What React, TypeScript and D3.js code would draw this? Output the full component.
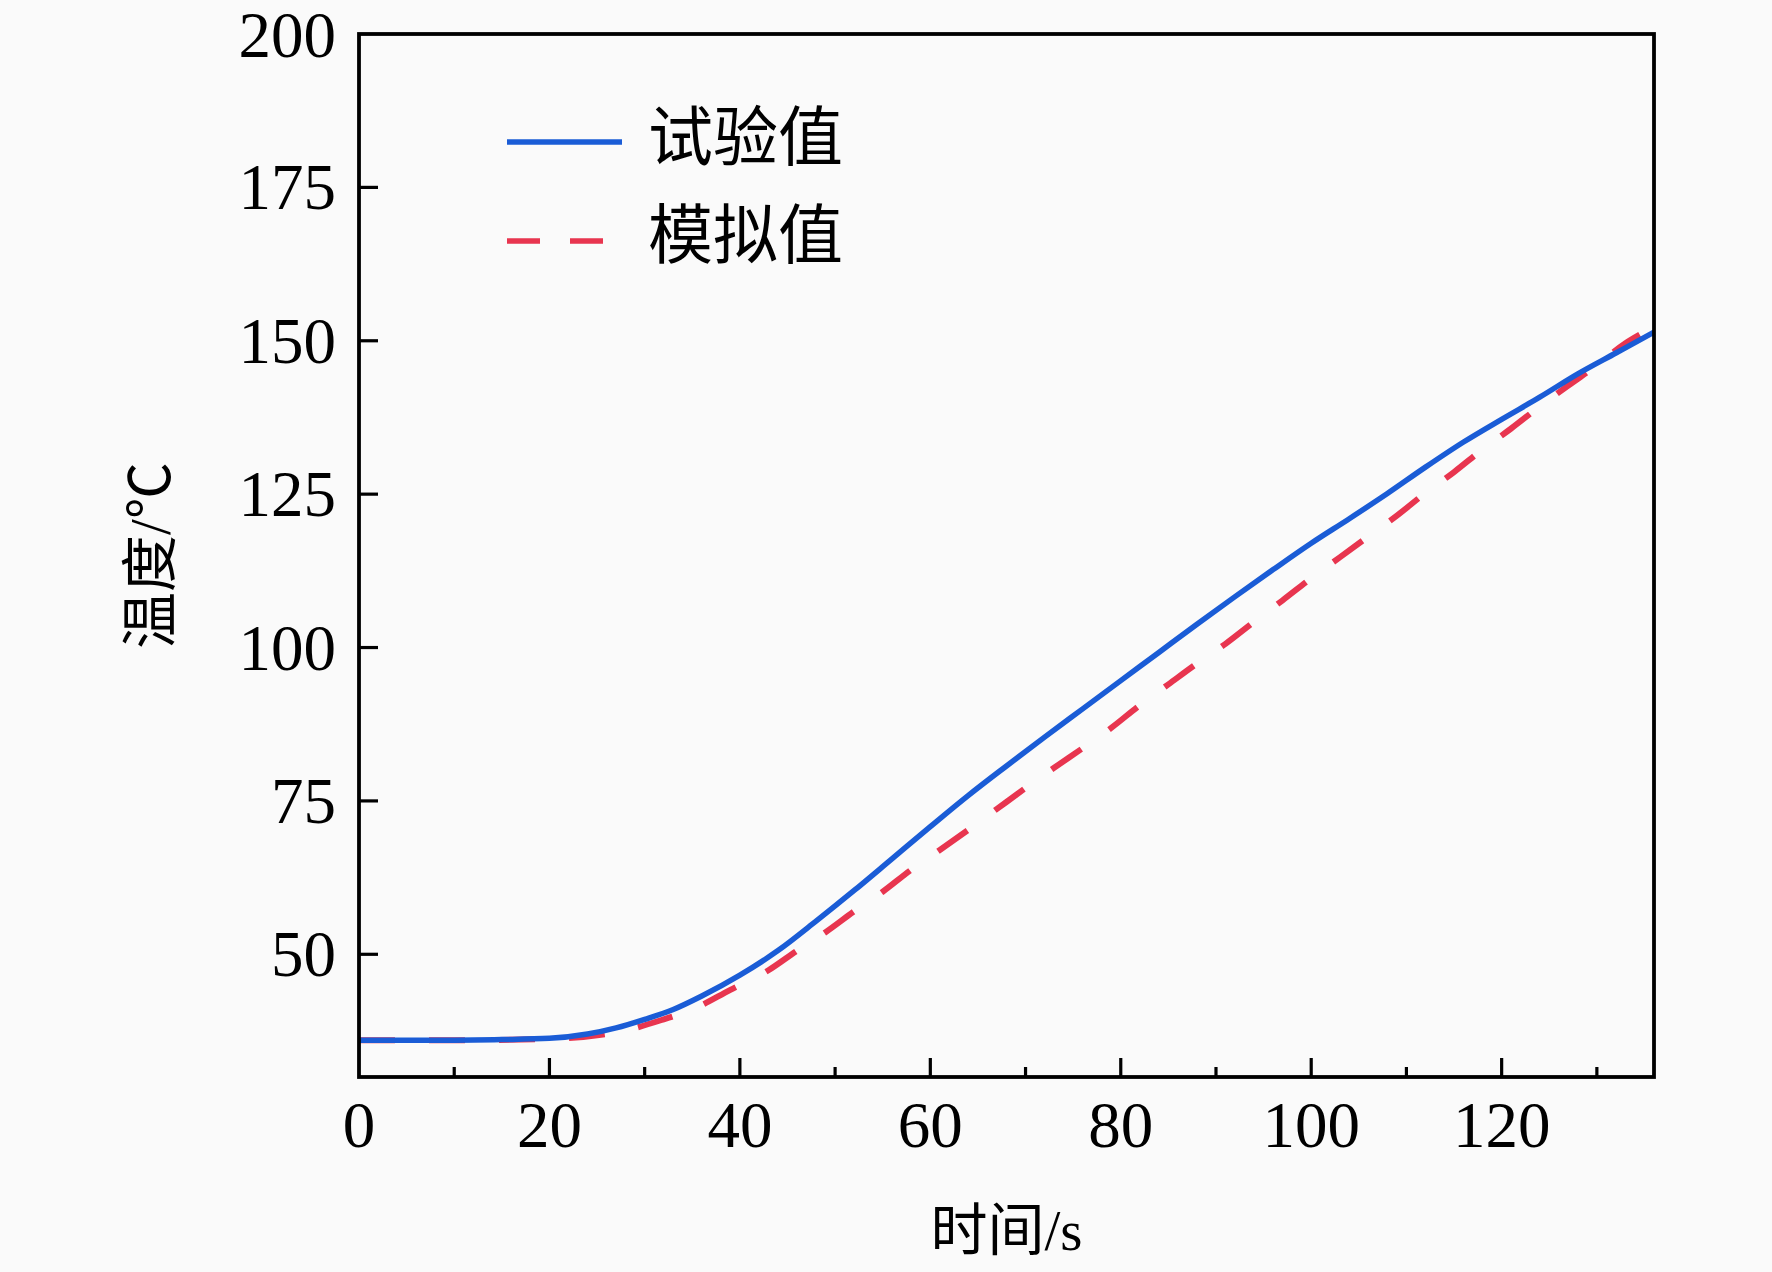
import React from "react";
import * as d3 from "d3";

const W = 1772;
const H = 1272;

// 试验值 (experiment)
const expTime = [0, 5, 10, 15, 20, 24, 27, 30, 33, 36, 40, 44, 48, 52, 56, 60, 64, 68, 72, 76, 80, 84, 88, 92, 96, 100, 104, 108, 112, 116, 120, 124, 128, 132, 136];
const expTemp = [36.0, 36.0, 36.0, 36.1, 36.3, 37.0, 38.0, 39.4, 41.0, 43.2, 46.6, 50.6, 55.4, 60.4, 65.6, 70.8, 75.9, 80.7, 85.4, 90.0, 94.6, 99.2, 103.8, 108.3, 112.7, 117.0, 121.0, 125.1, 129.4, 133.5, 137.2, 140.8, 144.6, 148.0, 151.4];

// 模拟值 (simulation)
const simTime = [0, 10, 20, 25, 28, 32, 35, 39, 43, 46, 49, 52, 55, 58, 61, 64, 67, 70, 73, 76, 79, 82, 85, 88, 91, 94, 97, 100, 103, 106, 109, 112, 115, 118, 121, 124, 127, 130, 133, 134.5];
const simTemp = [36.0, 36.0, 36.2, 36.8, 37.6, 39.4, 41.0, 44.2, 47.4, 50.6, 53.6, 57.0, 60.2, 63.8, 67.0, 70.3, 73.7, 77.1, 80.4, 83.6, 86.9, 90.6, 94.0, 97.4, 100.6, 104.2, 107.7, 111.3, 114.7, 118.1, 121.5, 125.2, 128.6, 132.3, 135.7, 139.3, 142.7, 146.0, 149.6, 151.0];

const xTicks = [0, 20, 40, 60, 80, 100, 120];
const xMinorTicks = [10, 30, 50, 70, 90, 110, 130];
const yTicks = [50, 75, 100, 125, 150, 175, 200];

const legendLabels = ["试验值", "模拟值"];
const xTitle = "时间/s";
const yTitle = "温度/℃";

const BLUE = "#1a5cd6";
const RED = "#e8354f";

const FONT = "'Liberation Serif', 'Times New Roman', 'Noto Sans CJK SC', serif";

export default function App() {
  const left = 359, right = 1654, top = 34, bottom = 1077;
  const x = d3.scaleLinear().domain([0, 136]).range([left, right]);
  const y = d3.scaleLinear().domain([30, 200]).range([bottom, top]);

  const line = d3
    .line<[number, number]>()
    .x((d) => x(d[0]))
    .y((d) => y(d[1]))
    .curve(d3.curveMonotoneX);

  const expPts: [number, number][] = expTime.map((t, i) => [t, expTemp[i]]);
  const simPts: [number, number][] = simTime.map((t, i) => [t, simTemp[i]]);

  return (
    <svg
      width={W}
      height={H}
      style={{ position: "absolute", left: 0, top: 0, display: "block" }}
      fontFamily={FONT}
    >
      <rect x={0} y={0} width={W} height={H} fill="#fafafa" />
      <defs>
        <clipPath id="plotclip">
          <rect x={left} y={top} width={right - left} height={bottom - top} />
        </clipPath>
      </defs>

      {/* data lines */}
      <g clipPath="url(#plotclip)">
        <path d={line(simPts) || ""} fill="none" stroke={RED} strokeWidth={6} strokeDasharray="36 34" />
        <path d={line(expPts) || ""} fill="none" stroke={BLUE} strokeWidth={5.5} />
      </g>

      {/* frame */}
      <rect x={left} y={top} width={right - left} height={bottom - top} fill="none" stroke="#000" strokeWidth={3.8} />

      {/* x ticks */}
      {xTicks.map((t) => (
        <g key={"xt" + t}>
          {t > 0 && <line x1={x(t)} x2={x(t)} y1={bottom} y2={bottom - 19} stroke="#000" strokeWidth={3.2} />}
          <text x={x(t)} y={1147} textAnchor="middle" fontSize={65} fill="#000">
            {t}
          </text>
        </g>
      ))}
      {xMinorTicks.map((t) => (
        <line key={"xm" + t} x1={x(t)} x2={x(t)} y1={bottom} y2={bottom - 10} stroke="#000" strokeWidth={3.2} />
      ))}

      {/* y ticks */}
      {yTicks.map((t) => (
        <g key={"yt" + t}>
          {t < 200 && <line x1={left} x2={left + 19} y1={y(t)} y2={y(t)} stroke="#000" strokeWidth={3.2} />}
          <text x={336} y={y(t) + (t === 200 ? 23 : 22)} textAnchor="end" fontSize={65} fill="#000">
            {t}
          </text>
        </g>
      ))}

      {/* axis titles */}
      <text x={(left + right) / 2} y={1250} textAnchor="middle" fontSize={57} fill="#000">
        {xTitle}
      </text>
      <text
        transform={`translate(${170}, ${(top + bottom) / 2}) rotate(-90)`}
        textAnchor="middle"
        fontSize={57}
        fill="#000"
      >
        {yTitle}
      </text>

      {/* legend */}
      <line x1={507} x2={622} y1={142} y2={142} stroke={BLUE} strokeWidth={5.5} />
      <line x1={507} x2={622} y1={241} y2={241} stroke={RED} strokeWidth={5.5} strokeDasharray="33 30" />
      <text x={648} y={160} fontSize={65} fill="#000">
        {legendLabels[0]}
      </text>
      <text x={648} y={258} fontSize={65} fill="#000">
        {legendLabels[1]}
      </text>
    </svg>
  );
}
